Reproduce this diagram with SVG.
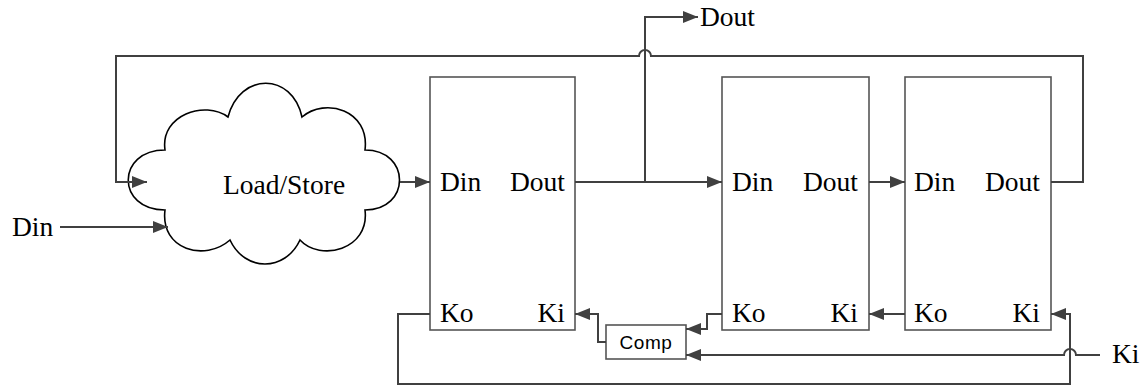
<svg xmlns="http://www.w3.org/2000/svg" width="1148" height="389" viewBox="0 0 1148 389">
<style>
.box{fill:#fff;stroke:#555;stroke-width:1.6}
.cloud{fill:#fff;stroke:#000;stroke-width:1.6}
.wire{fill:none;stroke:#404040;stroke-width:2}
.t{font-family:"Liberation Serif","Times New Roman",serif;font-size:27.5px;fill:#000}
.s{font-family:"Liberation Sans",Arial,sans-serif;font-size:19px;letter-spacing:0.6px;fill:#000}
</style>
<defs>
<marker id="ah" markerUnits="userSpaceOnUse" markerWidth="15" markerHeight="12" refX="15" refY="6" orient="auto">
<path d="M0,0 L15,6 L0,12 z" fill="#404040"/>
</marker>
</defs>
<g id="loadstore">
<path class="cloud" d="M165,150 C160,115 205,100 228,117 C240,72 292,72 302,117 C325,97 370,110 365,150 C411,150 411,210 365,210 C370,250 320,262 300,240 C285,272 245,272 230,240 C205,262 160,250 165,210 C116,210 116,150 165,150 Z"/>
<text class="t" x="284" y="194" text-anchor="middle">Load/Store</text>
</g>
<g id="stage1">
<rect class="box" x="430" y="77" width="145" height="253"/>
<text class="t" x="440" y="191">Din</text>
<text class="t" x="565" y="191" text-anchor="end">Dout</text>
<text class="t" x="440" y="322">Ko</text>
<text class="t" x="565" y="322" text-anchor="end">Ki</text>
</g>
<g id="stage2">
<rect class="box" x="722" y="77" width="147" height="253"/>
<text class="t" x="732" y="191">Din</text>
<text class="t" x="858" y="191" text-anchor="end">Dout</text>
<text class="t" x="732" y="322">Ko</text>
<text class="t" x="858" y="322" text-anchor="end">Ki</text>
</g>
<g id="stage3">
<rect class="box" x="905" y="77" width="146" height="253"/>
<text class="t" x="914" y="191">Din</text>
<text class="t" x="1040" y="191" text-anchor="end">Dout</text>
<text class="t" x="914" y="322">Ko</text>
<text class="t" x="1040" y="322" text-anchor="end">Ki</text>
</g>
<g id="comp">
<rect class="box" x="606" y="325" width="80" height="34"/>
<text class="s" x="646" y="349" text-anchor="middle">Comp</text>
</g>
<g id="labels">
<text class="t" x="12" y="236">Din</text>
<text class="t" x="700" y="26">Dout</text>
<text class="t" x="1112" y="363">Ki</text>
</g>
<g id="connectors">
<path class="wire" d="M1051,182 L1083,182 L1083,56 L651,56 A6,6 0 0 0 639,56 L116,56 L116,182 L147,182" marker-end="url(#ah)"/>
<path class="wire" d="M60,227 L168,227" marker-end="url(#ah)"/>
<path class="wire" d="M400,182 L430,182" marker-end="url(#ah)"/>
<path class="wire" d="M575,182 L722,182" marker-end="url(#ah)"/>
<path class="wire" d="M645,182 L645,17 L698,17" marker-end="url(#ah)"/>
<path class="wire" d="M869,182 L905,182" marker-end="url(#ah)"/>
<path class="wire" d="M905,314 L869,314" marker-end="url(#ah)"/>
<path class="wire" d="M430,314 L398,314 L398,384 L1070,384 L1070,314 L1051,314" marker-end="url(#ah)"/>
<path class="wire" d="M1100,355 L1076,355 A6,6 0 0 0 1064,355 L686,355" marker-end="url(#ah)"/>
<path class="wire" d="M722,314 L707,314 L707,329 L686,329" marker-end="url(#ah)"/>
<path class="wire" d="M606,342 L598,342 L598,314 L575,314" marker-end="url(#ah)"/>
</g>
</svg>
